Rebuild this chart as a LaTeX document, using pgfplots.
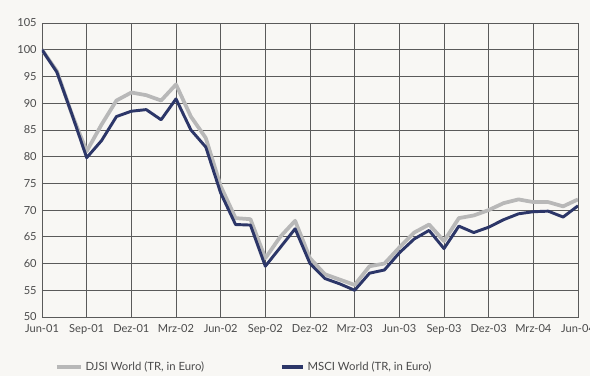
\documentclass[border=0pt]{standalone}
\usepackage{pgfplots}
\pgfplotsset{compat=1.18}
\usepackage{fontspec}
\setmainfont{Lato}
\definecolor{bgc}{HTML}{F8F7F4}
\definecolor{gridc}{HTML}{5A5A5A}
\definecolor{djsi}{HTML}{B8B8B8}
\definecolor{msci}{HTML}{2C3668}
\definecolor{txt}{HTML}{4A4A4A}
\begin{document}
\begin{tikzpicture}
\path[use as bounding box, fill=bgc] (-31.5pt,-44.25pt) rectangle (411pt,237.75pt);
\begin{axis}[
  at={(0,0)}, anchor=south west,
  scale only axis, width=402pt, height=220.5pt,
  xmin=0, xmax=36, ymin=50, ymax=105,
  xtick={0,3,...,36},
  xticklabels={Jun-01,Sep-01,Dez-01,Mrz-02,Jun-02,Sep-02,Dez-02,Mrz-03,Jun-03,Sep-03,Dez-03,Mrz-04,Jun-04},
  ytick={50,55,...,105},
  grid=major,
  grid style={gridc, line width=0.55pt},
  axis line style={gridc, line width=0.55pt},
  major tick length=0pt,
  tick label style={font=\fontsize{8.3}{10}\selectfont, text=txt},
  /pgf/number format/assume math mode=true,
  yticklabel style={xshift=-0.5pt},
  xticklabel style={yshift=-2pt},
  legend columns=2,
  legend style={at={(0.024,-0.17)}, anchor=west, draw=none, fill=none, inner sep=0pt,
    font=\fontsize{8.5}{10}\selectfont, text=txt,
    /tikz/every even column/.append style={column sep=55pt}},
  legend cell align=left,
]
\addplot[djsi, line width=2.8pt, line join=round,
  legend image code/.code={\draw[djsi, line width=2.8pt] (0pt,0pt) -- (18pt,0pt);}] coordinates {
(0,100) (1,96) (2,88) (3,81) (4,86) (5,90.5) (6,92) (7,91.5) (8,90.5) (9,93.5)
(10,87.5) (11,83.5) (12,74.5) (13,68.5) (14,68.3) (15,61) (16,65) (17,68) (18,61)
(19,58) (20,57) (21,56) (22,59.5) (23,60) (24,63) (25,65.8) (26,67.3) (27,64.2)
(28,68.5) (29,69) (30,70) (31,71.3) (32,72) (33,71.5) (34,71.5) (35,70.7) (36,72)
};
\addlegendentry{DJSI World (TR, in Euro)}
\addplot[msci, line width=2.2pt, line join=round,
  legend image code/.code={\draw[msci, line width=2.6pt] (0pt,0pt) -- (16pt,0pt);}] coordinates {
(0,100) (1,95.8) (2,88) (3,79.8) (4,83) (5,87.5) (6,88.5) (7,88.8) (8,86.9) (9,90.8)
(10,85) (11,81.8) (12,73.2) (13,67.3) (14,67.2) (15,59.5) (16,63) (17,66.5) (18,60)
(19,57.2) (20,56.2) (21,55) (22,58.2) (23,58.8) (24,62) (25,64.6) (26,66.2) (27,62.8)
(28,67) (29,65.8) (30,66.8) (31,68.2) (32,69.3) (33,69.7) (34,69.8) (35,68.7) (36,70.8)
};
\addlegendentry{MSCI World (TR, in Euro)}
\end{axis}
\end{tikzpicture}
\end{document}
